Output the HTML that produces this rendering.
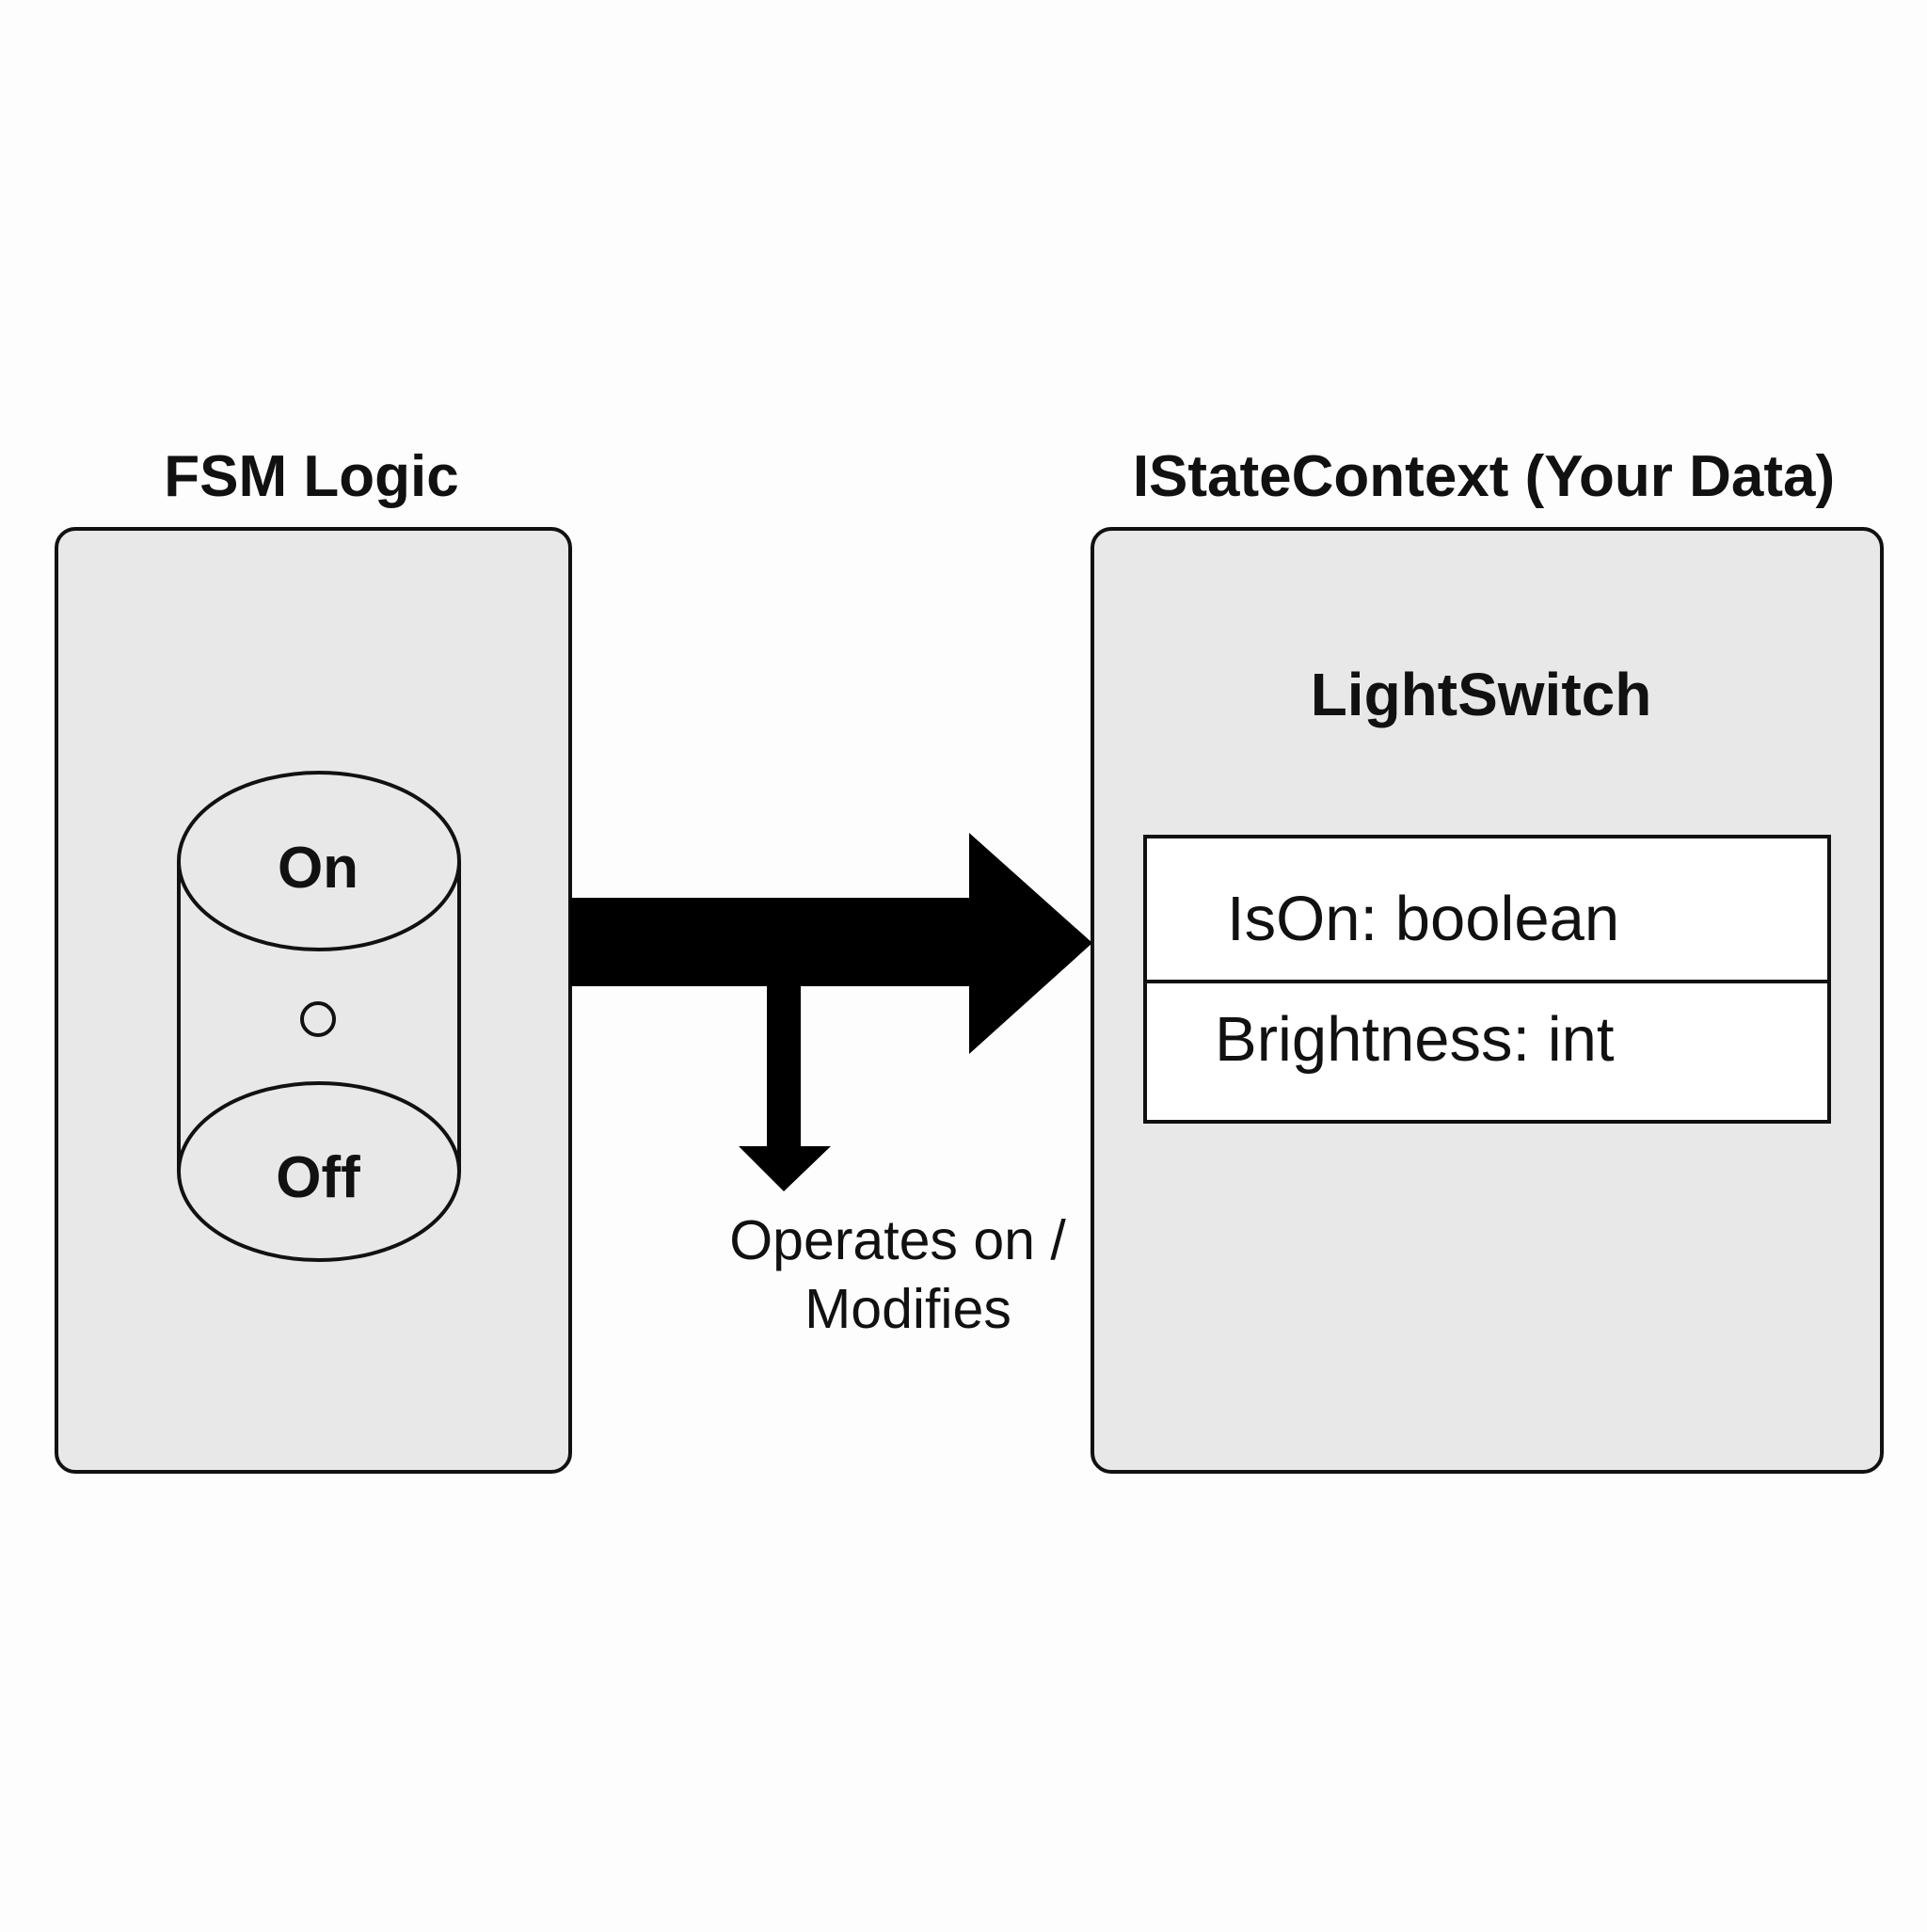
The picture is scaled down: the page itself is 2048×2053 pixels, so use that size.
<!DOCTYPE html>
<html><head><meta charset="utf-8"><style>html,body{margin:0;padding:0;background:#fdfdfd}</style></head>
<body>
<svg width="2048" height="2048" viewBox="0 0 2048 2048" xmlns="http://www.w3.org/2000/svg" font-family="Liberation Sans, sans-serif">
<rect width="2048" height="2048" fill="#fdfdfd"/>
<g transform="translate(1,3)">
<rect x="59" y="559" width="546" height="1002" rx="20" fill="#e8e8e8" stroke="#111" stroke-width="4"/>
<rect x="1160" y="559" width="839" height="1002" rx="20" fill="#e8e8e8" stroke="#111" stroke-width="4"/>
<text x="330" y="524" font-size="62" font-weight="bold" text-anchor="middle" fill="#111">FSM Logic</text>
<text x="1576" y="524" font-size="62" font-weight="bold" text-anchor="middle" fill="#111">IStateContext (Your Data)</text>
<text x="1573" y="757" font-size="64" font-weight="bold" text-anchor="middle" fill="#111">LightSwitch</text>
<rect x="1216" y="886" width="727" height="303" fill="#fff" stroke="#111" stroke-width="4"/>
<line x1="1216" y1="1040" x2="1943" y2="1040" stroke="#111" stroke-width="4"/>
<text x="1303" y="996" font-size="67" fill="#111">IsOn: boolean</text>
<text x="1290" y="1124" font-size="67" fill="#111">Brightness: int</text>
<line x1="189" y1="912" x2="189" y2="1242" stroke="#111" stroke-width="4"/>
<line x1="487" y1="912" x2="487" y2="1242" stroke="#111" stroke-width="4"/>
<ellipse cx="338" cy="1242" rx="149" ry="94" fill="#e8e8e8" stroke="#111" stroke-width="4"/>
<ellipse cx="338" cy="912" rx="149" ry="94" fill="#e8e8e8" stroke="#111" stroke-width="4"/>
<circle cx="337" cy="1080" r="17" fill="none" stroke="#111" stroke-width="4"/>
<text x="337" y="940" font-size="62" font-weight="bold" text-anchor="middle" fill="#111">On</text>
<text x="337" y="1269" font-size="62" font-weight="bold" text-anchor="middle" fill="#111">Off</text>
<polygon points="605,951 1029,951 1029,882 1160,999 1029,1117 1029,1045 850,1045 850,1215 882,1215 832,1263 784,1215 814,1215 814,1045 605,1045" fill="#000"/>
<text x="953" y="1335" font-size="59" text-anchor="middle" fill="#111">Operates on /</text>
<text x="964" y="1408" font-size="59" text-anchor="middle" fill="#111">Modifies</text>
</g>
</svg>
</body></html>
